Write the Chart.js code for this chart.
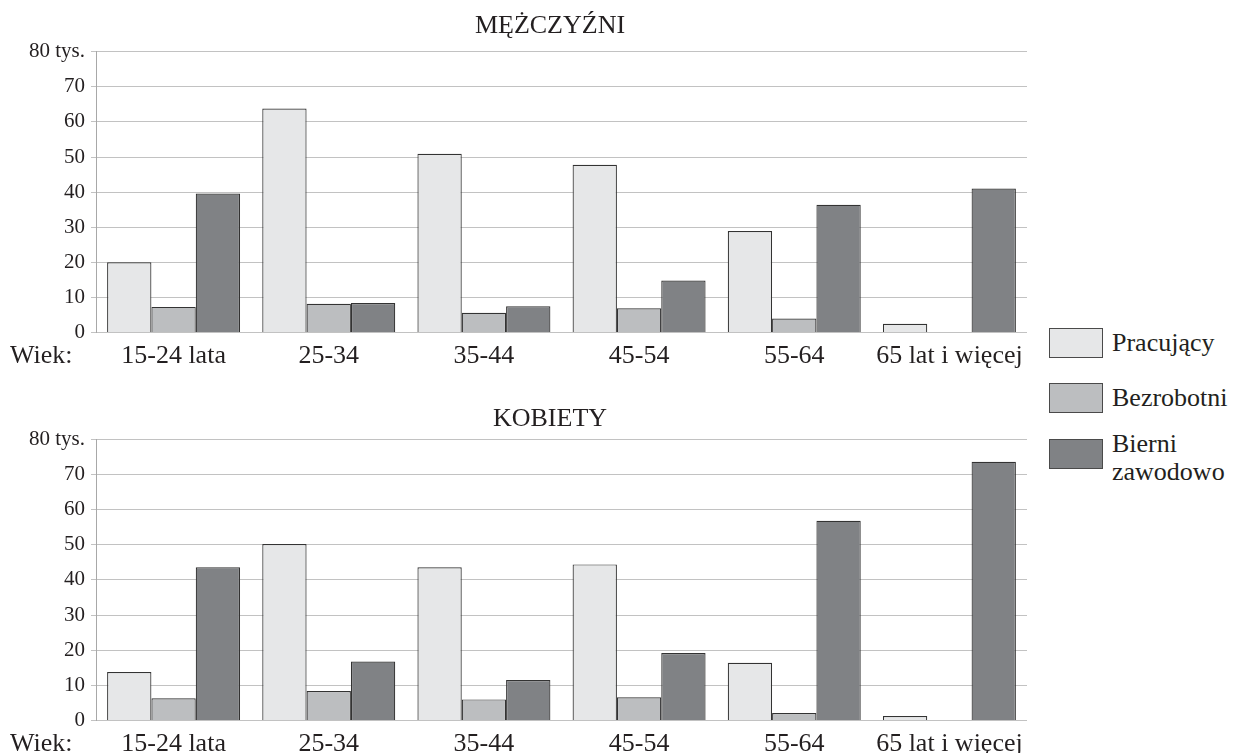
<!DOCTYPE html>
<html>
<head>
<meta charset="utf-8">
<script src="https://cdn.jsdelivr.net/npm/chart.js@4/dist/chart.umd.min.js"></script>
<style>
  html, body { margin: 0; padding: 0; background: #ffffff; width: 1239px; height: 753px; overflow: hidden; }
  body { position: relative; font-family: "Liberation Serif", "DejaVu Serif", serif; color: #231f20; }
  canvas { position: absolute; left: 0; }
  #c1 { top: 0; }
  #c2 { top: 388px; }
  .lg-box { position: absolute; left: 1049px; width: 52px; height: 28px; border: 1px solid #4a4a4a; }
  .lg-text { position: absolute; left: 1112px; font-size: 26px; line-height: 28px; color: #231f20; white-space: nowrap; }
</style>
</head>
<body>
<canvas id="c1" width="1035" height="388"></canvas>
<canvas id="c2" width="1035" height="388"></canvas>
<div id="legend"></div>
<script>
// ---- data ----
const categories = ['15-24 lata', '25-34', '35-44', '45-54', '55-64', '65 lat i więcej'];
const seriesNames = ['Pracujący', 'Bezrobotni', 'Bierni zawodowo'];
const legendLabels = [['Pracujący'], ['Bezrobotni'], ['Bierni', 'zawodowo']];
const menTitle = 'MĘŻCZYŹNI';
const womenTitle = 'KOBIETY';
const axisPrefix = 'Wiek:';
const topTickLabel = '80 tys.';

const menPracujacy  = [20.0, 63.8, 50.9, 47.8, 28.9, 2.5];
const menBezrobotni = [7.3, 8.2, 5.6, 6.9, 4.0, null];
const menBierni     = [39.6, 8.4, 7.5, 14.8, 36.4, 41.0];

const womenPracujacy  = [13.8, 50.2, 43.6, 44.4, 16.4, 1.3];
const womenBezrobotni = [6.3, 8.4, 6.0, 6.6, 2.1, null];
const womenBierni     = [43.6, 16.8, 11.5, 19.2, 56.8, 73.6];

// ---- styles ----
const FILLS = ['#e6e7e8', '#bcbec0', '#808285'];
const BORDER = '#333333';
const TEXT = '#231f20';
const FONT = '"Liberation Serif", "DejaVu Serif", serif';

const wiekPlugin = {
  id: 'wiek',
  afterLayout(chart) {
    // centre the title over the whole figure width (as in the source)
    const tb = chart.titleBlock;
    if (tb) { tb.left = 0; tb.right = 1100; tb.width = 1100; }
  },
  afterDraw(chart) {
    const sx = chart.scales.x;
    const items = sx.getLabelItems();
    if (!items.length) return;
    const it = items[0];
    const ctx = chart.ctx;
    ctx.save();
    ctx.font = '26px ' + FONT;
    ctx.fillStyle = TEXT;
    ctx.textAlign = 'left';
    ctx.textBaseline = it.options.textBaseline || 'middle';
    ctx.fillText(axisPrefix, 10, it.options.translation[1] + it.textOffset);
    ctx.restore();
  }
};

function makeChart(id, title, values, titlePad) {
  return new Chart(document.getElementById(id), {
    type: 'bar',
    data: {
      labels: categories,
      datasets: values.map((v, i) => ({
        label: seriesNames[i],
        data: v,
        backgroundColor: FILLS[i],
        borderColor: BORDER,
        borderWidth: 1.2,
        borderSkipped: 'start',
        categoryPercentage: 0.857,
        barPercentage: 1.0
      }))
    },
    options: {
      responsive: false,
      animation: false,
      devicePixelRatio: 1,
      layout: { padding: { left: 0, right: 8, top: 0, bottom: 0 } },
      plugins: {
        legend: { display: false },
        tooltip: { enabled: false },
        title: {
          display: true,
          text: title,
          color: TEXT,
          font: { family: FONT, size: 26, weight: 'normal', lineHeight: 1.2 },
          padding: titlePad
        }
      },
      scales: {
        x: {
          grid: { display: false, drawTicks: false },
          border: { display: false },
          ticks: {
            color: TEXT,
            font: { family: FONT, size: 26 },
            padding: 8,
            maxRotation: 0,
            autoSkip: false
          },
          afterFit(scale) { scale.height = 55.5; }
        },
        y: {
          min: 0,
          max: 80,
          grid: { color: '#c2c2c2', lineWidth: 1, tickLength: 5, drawTicks: true },
          border: { display: true, color: '#a8a8a8', width: 1 },
          ticks: {
            stepSize: 10,
            color: TEXT,
            padding: 6,
            font: { family: FONT, size: 21 },
            callback: (v) => (v === 80 ? topTickLabel : v)
          },
          afterFit(scale) { scale.width = 96; }
        }
      }
    },
    plugins: [wiekPlugin]
  });
}

makeChart('c1', menTitle, [menPracujacy, menBezrobotni, menBierni], { top: 10.5, bottom: 10 });
makeChart('c2', womenTitle, [womenPracujacy, womenBezrobotni, womenBierni], { top: 16, bottom: 4 });

// ---- legend (HTML) ----
const legendTops = [328, 383, 439];
const legend = document.getElementById('legend');
legendLabels.forEach((lines, i) => {
  const box = document.createElement('div');
  box.className = 'lg-box';
  box.style.top = legendTops[i] + 'px';
  box.style.background = FILLS[i];
  legend.appendChild(box);
  const t = document.createElement('div');
  t.className = 'lg-text';
  t.style.top = (lines.length > 1 ? legendTops[i] - 9 : legendTops[i] + 1) + 'px';
  t.innerHTML = lines.join('<br>');
  legend.appendChild(t);
});
</script>
</body>
</html>
